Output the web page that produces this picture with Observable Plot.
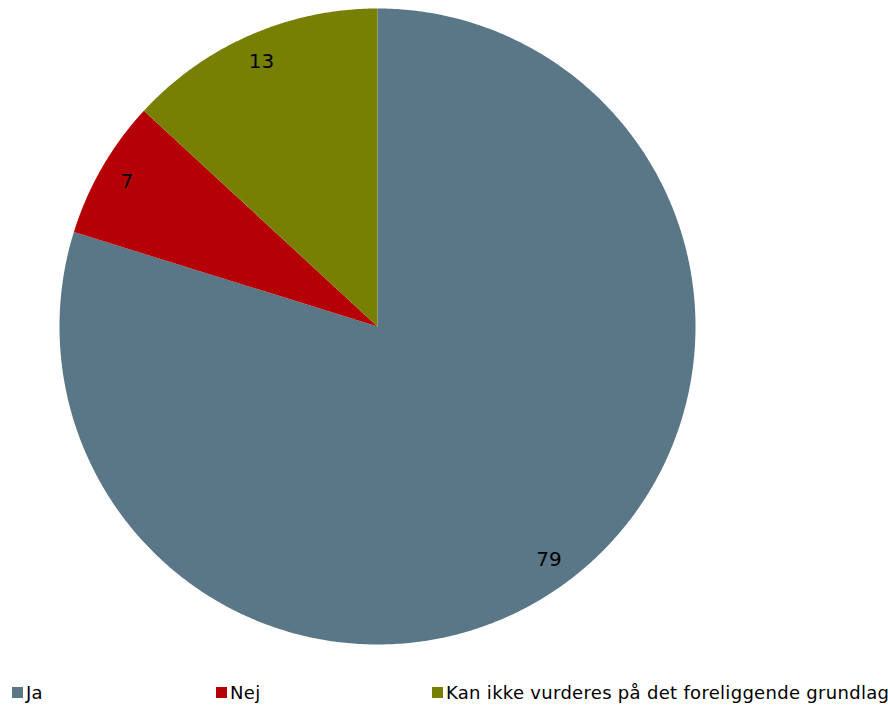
<!DOCTYPE html>
<html>
<head>
<meta charset="utf-8">
<script src="https://cdn.jsdelivr.net/npm/d3@7"></script>
<script src="https://cdn.jsdelivr.net/npm/@observablehq/plot@0.6"></script>
<style>
  body { margin: 0; background: #fff; font-family: "DejaVu Sans", Verdana, sans-serif; }
  #wrap { position: relative; width: 888px; height: 706px; }
  .leg { position: absolute; top: 682px; font-size: 18px; letter-spacing: 0.3px; color: #000; display: flex; align-items: center; white-space: nowrap; }
  .sw { width: 11px; height: 11px; margin-right: 3px; display: inline-block; }
</style>
</head>
<body>
<div id="wrap"></div>
<script>
const categories = ["Ja", "Nej", "Kan ikke vurderes på det foreliggende grundlag"];
const values = [79, 7, 13];
const colors = ["#5a7787", "#b50005", "#788003"];
const legendX = [12, 216, 432];

const total = d3.sum(values);
const pts = [];
const labels = [];
let start = 0;
categories.forEach((c, i) => {
  const a0 = start / total * 2 * Math.PI;
  const a1 = (start + values[i]) / total * 2 * Math.PI;
  pts.push({cat: c, x: 0, y: 0});
  const n = Math.max(2, Math.ceil((a1 - a0) / (Math.PI / 360)));
  for (let k = 0; k <= n; k++) {
    const a = a0 + (a1 - a0) * k / n;
    pts.push({cat: c, x: Math.sin(a), y: Math.cos(a)});
  }
  pts.push({cat: c, x: 0, y: 0});
  const am = (a0 + a1) / 2;
  labels.push({cat: c, v: values[i], x: 0.91 * Math.sin(am), y: 0.91 * Math.cos(am)});
  start += values[i];
});

const chart = Plot.plot({
  width: 888,
  height: 660,
  marginLeft: 59,
  marginRight: 193,
  marginTop: 8,
  marginBottom: 16,
  x: {domain: [-1, 1], axis: null},
  y: {domain: [-1, 1], axis: null},
  color: {domain: categories, range: colors},
  style: {fontFamily: "DejaVu Sans, Verdana, sans-serif", background: "#fff"},
  marks: [
    Plot.line(pts, {x: "x", y: "y", z: "cat", fill: "cat", stroke: null, curve: "linear"}),
    Plot.text(labels, {x: "x", y: "y", text: d => String(d.v), fontSize: 20, fill: "#000"})
  ]
});
const wrap = document.getElementById("wrap");
wrap.appendChild(chart);
categories.forEach((c, i) => {
  const d = document.createElement("div");
  d.className = "leg";
  d.style.left = legendX[i] + "px";
  d.innerHTML = `<span class="sw" style="background:${colors[i]}"></span><span>${c}</span>`;
  wrap.appendChild(d);
});
</script>
</body>
</html>
